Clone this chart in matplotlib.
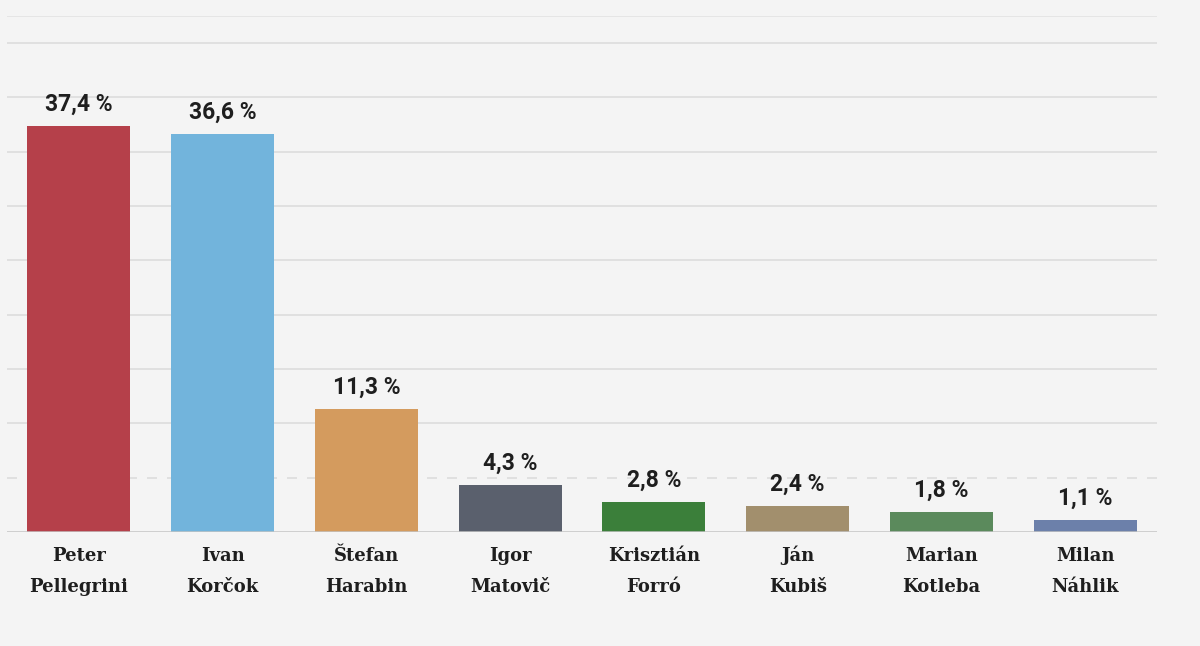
import matplotlib.pyplot as plt

kandidati = [("Peter", "Pellegrini"), ("Ivan", "Korčok"), ("Štefan", "Harabin"), ("Igor", "Matovič"),
             ("Krisztián", "Forró"), ("Ján", "Kubiš"), ("Marian", "Kotleba"), ("Milan", "Náhlik")]
hlasy = [37.4, 36.6, 11.3, 4.3, 2.8, 2.4, 1.8, 1.1]
farby = ["#b5404a", "#72b4dc", "#d49b5e", "#5a606d", "#3b7f3a", "#a28f6d", "#5b8a5c", "#6c80aa"]

bg = "#f4f4f4"
fig = plt.figure(figsize=(12, 6.46), dpi=100, facecolor=bg)
ax = fig.add_axes([7/1200, 114/646, 1150/1200, 516/646])
ax.set_facecolor(bg)

x = range(len(hlasy))
ax.bar(x, hlasy, width=0.717, color=farby, zorder=3)
ax.set_xlim(-0.5, len(hlasy) - 0.5)
ax.set_ylim(0, 47.5)

# mriezka
for g in range(5, 50, 5):
    ax.axhline(g, color="#dcdcdc", lw=1.2, zorder=1,
               ls=(0, (6, 6)) if g == 5 else "-")
ax.axhline(47.5, color="#e2e2e2", lw=1.2, zorder=1)
ax.axhline(0, color="#c4c4c4", lw=1.8, zorder=4)

for s in ax.spines.values():
    s.set_visible(False)
ax.set_yticks([])
ax.set_xticks([])

# mena pod osou, kazdy riadok zvlast kvoli diakritike
for i, (meno, priezvisko) in enumerate(kandidati):
    for riadok, dy in ((meno, -20.9), (priezvisko, -43.2)):
        ax.annotate(riadok, (i, 0), xycoords=("data", "axes fraction"), xytext=(0, dy),
                    textcoords="offset points", ha="center", va="baseline",
                    fontfamily="DejaVu Serif", fontweight="bold", fontsize=13, color="#1e1e1e",
                    annotation_clip=False)

for i, v in enumerate(hlasy):
    ax.annotate(f"{v:.1f} %".replace(".", ","), (i, v), xytext=(0, 11),
                textcoords="offset points", ha="center", va="baseline",
                fontfamily="Roboto", fontweight="bold", fontsize=16.5, color="#1e1e1e")

fig.savefig("out.png", dpi=100, facecolor=bg)
